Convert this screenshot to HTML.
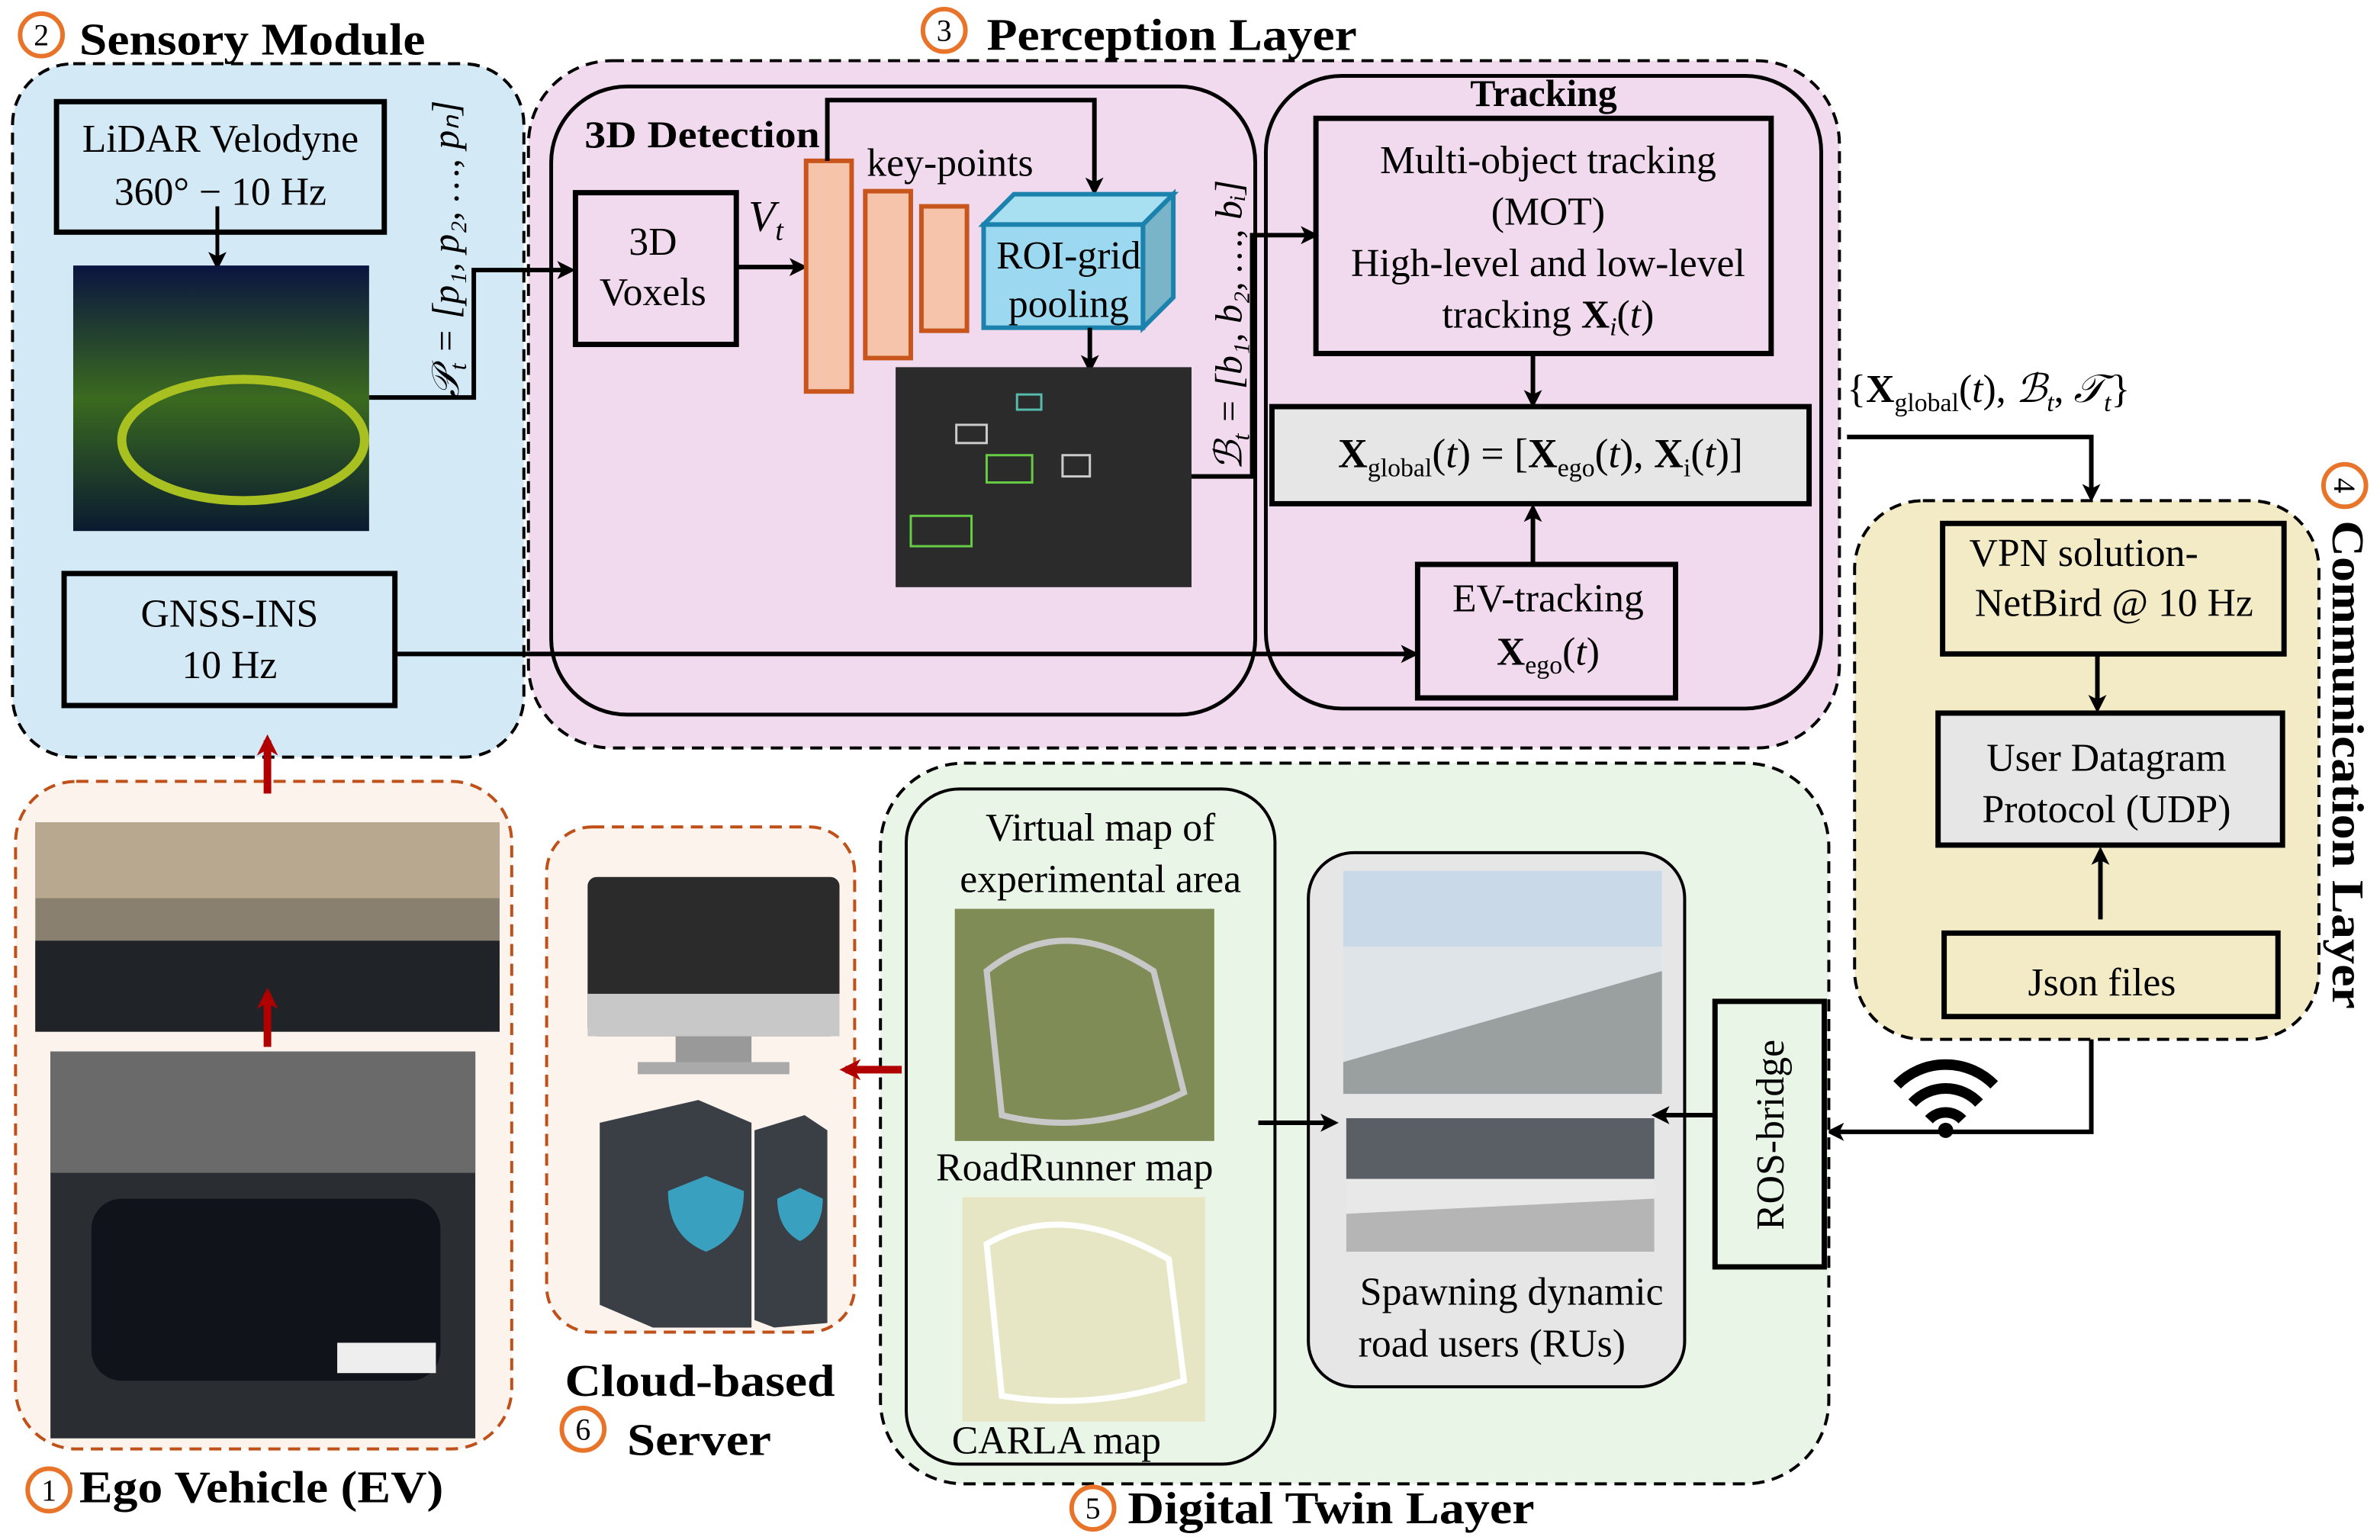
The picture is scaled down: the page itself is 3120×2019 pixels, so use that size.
<!DOCTYPE html>
<html><head><meta charset="utf-8"><style>html,body{margin:0;padding:0;background:#fff}svg{display:block}text{font-family:"Liberation Serif",serif;fill:#000}</style></head><body>
<svg width="3120" height="2019" viewBox="0 0 1568 1015" xmlns="http://www.w3.org/2000/svg">
<defs>
<marker id="a" markerWidth="12" markerHeight="12" refX="9" refY="6" orient="auto" markerUnits="userSpaceOnUse"><path d="M0,0 L12,6 L0,12 L3,6 z" fill="#000"/></marker>
<marker id="r" markerWidth="14" markerHeight="14" refX="10" refY="7" orient="auto" markerUnits="userSpaceOnUse"><path d="M0,0 L14,7 L0,14 L4,7 z" fill="#b00000"/></marker>
<linearGradient id="pc" x1="0" y1="0" x2="0" y2="1"><stop offset="0" stop-color="#0a1440"/><stop offset="0.5" stop-color="#3a6a20"/><stop offset="1" stop-color="#0a1a30"/></linearGradient>
</defs>
<!-- Sensory -->
<rect x="8" y="42" width="337" height="457" rx="40" fill="#d4e9f6" stroke="#000" stroke-width="2" stroke-dasharray="8,5"/>
<circle cx="27" cy="23" r="14" fill="none" stroke="#e8742a" stroke-width="3"/><text x="27" y="30" font-size="20" text-anchor="middle" font-family="Liberation Sans">2</text>
<text x="52" y="36" font-size="30" font-weight="bold" textLength="228" lengthAdjust="spacingAndGlyphs">Sensory Module</text>
<rect x="37" y="67" width="216" height="86" fill="#d4e9f6" stroke="#000" stroke-width="3.5"/>
<text x="145" y="100" font-size="26" text-anchor="middle">LiDAR Velodyne</text>
<text x="145" y="135" font-size="26" text-anchor="middle">360° − 10 Hz</text>
<line x1="143" y1="136" x2="143" y2="175" stroke="#000" stroke-width="2.5" marker-end="url(#a)"/>
<rect x="48" y="175" width="195" height="175" fill="url(#pc)"/>
<ellipse cx="160" cy="290" rx="80" ry="40" fill="none" stroke="#a8c020" stroke-width="6"/>
<rect x="42" y="378" width="218" height="87" fill="#d4e9f6" stroke="#000" stroke-width="3.5"/>
<text x="151" y="413" font-size="26" text-anchor="middle">GNSS-INS</text>
<text x="151" y="447" font-size="26" text-anchor="middle">10 Hz</text>
<text transform="translate(302,262) rotate(-90)" font-size="25" font-style="italic">𝒫<tspan font-size="16" dy="5">t</tspan><tspan dy="-5"> = [p₁, p₂, …, pₙ]</tspan></text>
<!-- Perception -->
<rect x="348" y="40" width="864" height="453" rx="55" fill="#f1d9ee" stroke="#000" stroke-width="2" stroke-dasharray="8,5"/>
<polyline points="243,262 312,262 312,178 376,178" fill="none" stroke="#000" stroke-width="3" marker-end="url(#a)"/>
<circle cx="622" cy="20" r="14" fill="none" stroke="#e8742a" stroke-width="3"/><text x="622" y="27" font-size="20" text-anchor="middle" font-family="Liberation Sans">3</text>
<text x="650" y="33" font-size="30" font-weight="bold" textLength="244" lengthAdjust="spacingAndGlyphs">Perception Layer</text>
<rect x="363" y="57" width="464" height="414" rx="50" fill="none" stroke="#000" stroke-width="2.5"/>
<text x="385" y="97" font-size="25" font-weight="bold" textLength="155" lengthAdjust="spacingAndGlyphs">3D Detection</text>
<rect x="379" y="127" width="106" height="100" fill="none" stroke="#000" stroke-width="3.5"/>
<text x="430" y="168" font-size="26" text-anchor="middle">3D</text>
<text x="430" y="201" font-size="26" text-anchor="middle">Voxels</text>
<text x="493" y="152" font-size="29" font-style="italic">V<tspan font-size="19" dy="6">t</tspan></text>
<line x1="485" y1="176" x2="529" y2="176" stroke="#000" stroke-width="3" marker-end="url(#a)"/>
<rect x="531" y="106" width="30" height="152" fill="#f5c4ab" stroke="#c8561c" stroke-width="3"/>
<rect x="570" y="126" width="30" height="110" fill="#f5c4ab" stroke="#c8561c" stroke-width="3"/>
<rect x="607" y="136" width="30" height="82" fill="#f5c4ab" stroke="#c8561c" stroke-width="3"/>
<text x="571" y="116" font-size="26">key-points</text>
<polyline points="545,106 545,66 721,66 721,126" fill="none" stroke="#000" stroke-width="3" marker-end="url(#a)"/>
<polygon points="648,148 668,128 773,128 753,148" fill="#a8e0f2" stroke="#1a82ad" stroke-width="3"/>
<polygon points="753,148 773,128 773,196 753,216" fill="#7ab4c8" stroke="#1a82ad" stroke-width="3"/>
<rect x="648" y="148" width="105" height="68" fill="#9cd8f0" stroke="#1a82ad" stroke-width="3"/>
<text x="704" y="177" font-size="26" text-anchor="middle">ROI-grid</text>
<text x="704" y="209" font-size="26" text-anchor="middle">pooling</text>
<line x1="718" y1="216" x2="718" y2="243" stroke="#000" stroke-width="3" marker-end="url(#a)"/>
<rect x="590" y="242" width="195" height="145" fill="#2b2b2b"/>
<g fill="none" stroke-width="1.5"><rect x="600" y="340" width="40" height="20" stroke="#6c4"/><rect x="650" y="300" width="30" height="18" stroke="#6c4"/><rect x="630" y="280" width="20" height="12" stroke="#ccc"/><rect x="700" y="300" width="18" height="14" stroke="#ccc"/><rect x="670" y="260" width="16" height="10" stroke="#5ba"/></g>
<text transform="translate(818,310) rotate(-90)" font-size="25" font-style="italic">ℬ<tspan font-size="16" dy="5">t</tspan><tspan dy="-5"> = [b₁, b₂, …, bᵢ]</tspan></text>
<polyline points="785,314 825,314 825,155 866,155" fill="none" stroke="#000" stroke-width="3" marker-end="url(#a)"/>
<rect x="834" y="50" width="366" height="417" rx="50" fill="none" stroke="#000" stroke-width="2.5"/>
<text x="1017" y="70" font-size="25" font-weight="bold" text-anchor="middle">Tracking</text>
<rect x="867" y="78" width="300" height="155" fill="none" stroke="#000" stroke-width="3.5"/>
<text x="1020" y="114" font-size="26" text-anchor="middle">Multi-object tracking</text>
<text x="1020" y="148" font-size="26" text-anchor="middle">(MOT)</text>
<text x="1020" y="182" font-size="26" text-anchor="middle">High-level and low-level</text>
<text x="1020" y="216" font-size="26" text-anchor="middle">tracking <tspan font-weight="bold">X</tspan><tspan font-style="italic" font-size="17" dy="5">i</tspan><tspan dy="-5">(</tspan><tspan font-style="italic">t</tspan>)</text>
<line x1="1010" y1="233" x2="1010" y2="266" stroke="#000" stroke-width="3" marker-end="url(#a)"/>
<rect x="838" y="268" width="354" height="64" fill="#e6e6e6" stroke="#000" stroke-width="3.5"/>
<text x="1015" y="308" font-size="27" text-anchor="middle"><tspan font-weight="bold">X</tspan><tspan font-size="17" dy="6">global</tspan><tspan dy="-6">(</tspan><tspan font-style="italic">t</tspan>) = [<tspan font-weight="bold">X</tspan><tspan font-size="17" dy="6">ego</tspan><tspan dy="-6">(</tspan><tspan font-style="italic">t</tspan>), <tspan font-weight="bold">X</tspan><tspan font-size="17" dy="6">i</tspan><tspan dy="-6">(</tspan><tspan font-style="italic">t</tspan>)]</text>
<line x1="1010" y1="372" x2="1010" y2="335" stroke="#000" stroke-width="3" marker-end="url(#a)"/>
<rect x="934" y="372" width="170" height="88" fill="none" stroke="#000" stroke-width="3.5"/>
<text x="1020" y="403" font-size="26" text-anchor="middle">EV-tracking</text>
<text x="1020" y="438" font-size="26" text-anchor="middle"><tspan font-weight="bold">X</tspan><tspan font-size="17" dy="6">ego</tspan><tspan dy="-6">(</tspan><tspan font-style="italic">t</tspan>)</text>
<line x1="260" y1="431" x2="932" y2="431" stroke="#000" stroke-width="3" marker-end="url(#a)"/>
<text x="1217" y="265" font-size="26">{<tspan font-weight="bold">X</tspan><tspan font-size="17" dy="6">global</tspan><tspan dy="-6">(</tspan><tspan font-style="italic">t</tspan>), <tspan font-style="italic">ℬ</tspan><tspan font-size="17" dy="6" font-style="italic">t</tspan><tspan dy="-6">, </tspan><tspan font-style="italic">𝒯</tspan><tspan font-size="17" dy="6" font-style="italic">t</tspan><tspan dy="-6">}</tspan></text>
<polyline points="1217,288 1378,288 1378,328" fill="none" stroke="#000" stroke-width="3" marker-end="url(#a)"/>
<!-- Communication -->
<rect x="1222" y="330" width="306" height="355" rx="45" fill="#f3ebc6" stroke="#000" stroke-width="2" stroke-dasharray="8,5"/>
<circle cx="1545" cy="320" r="14" fill="none" stroke="#e8742a" stroke-width="3"/><text x="1545" y="327" font-size="20" text-anchor="middle" font-family="Liberation Sans" transform="rotate(90,1545,320)">4</text>
<text transform="translate(1537,343) rotate(90)" font-size="30" font-weight="bold" textLength="322" lengthAdjust="spacingAndGlyphs">Communication Layer</text>
<rect x="1280" y="345" width="225" height="86" fill="#f3ebc6" stroke="#000" stroke-width="3.5"/>
<text x="1373" y="373" font-size="26" text-anchor="middle">VPN solution-</text>
<text x="1393" y="406" font-size="26" text-anchor="middle">NetBird @ 10 Hz</text>
<line x1="1382" y1="431" x2="1382" y2="467" stroke="#000" stroke-width="3" marker-end="url(#a)"/>
<rect x="1277" y="470" width="227" height="87" fill="#e6e6e6" stroke="#000" stroke-width="3.5"/>
<text x="1388" y="508" font-size="26" text-anchor="middle">User Datagram</text>
<text x="1388" y="542" font-size="26" text-anchor="middle">Protocol (UDP)</text>
<line x1="1384" y1="606" x2="1384" y2="561" stroke="#000" stroke-width="3" marker-end="url(#a)"/>
<rect x="1281" y="615" width="220" height="55" fill="#f3ebc6" stroke="#000" stroke-width="3.5"/>
<text x="1385" y="656" font-size="26" text-anchor="middle">Json files</text>
<polyline points="1378,685 1378,746 1206,746" fill="none" stroke="#000" stroke-width="3" marker-end="url(#a)"/>
<g fill="none" stroke="#000" stroke-width="7"><path d="M1250,715 A45,45 0 0 1 1314,715"/><path d="M1260,727 A30,30 0 0 1 1304,727"/><path d="M1271,738 A15,15 0 0 1 1293,738"/></g><circle cx="1282" cy="745" r="5" fill="#000"/>
<!-- Digital twin -->
<rect x="580" y="503" width="625" height="475" rx="55" fill="#e9f5e6" stroke="#000" stroke-width="2" stroke-dasharray="8,5"/>
<circle cx="720" cy="994" r="14" fill="none" stroke="#e8742a" stroke-width="3"/><text x="720" y="1001" font-size="20" text-anchor="middle" font-family="Liberation Sans">5</text>
<text x="743" y="1004" font-size="30" font-weight="bold" textLength="268" lengthAdjust="spacingAndGlyphs">Digital Twin Layer</text>
<rect x="597" y="520" width="243" height="445" rx="35" fill="none" stroke="#000" stroke-width="2"/>
<text x="725" y="554" font-size="26" text-anchor="middle">Virtual map of</text>
<text x="725" y="588" font-size="26" text-anchor="middle">experimental area</text>
<rect x="629" y="599" width="171" height="153" fill="#7f8c55"/>
<path d="M650,640 Q700,600 760,640 L780,720 Q720,750 660,735 Z" fill="none" stroke="#c8c8c8" stroke-width="4"/>
<text x="708" y="778" font-size="26" text-anchor="middle">RoadRunner map</text>
<rect x="634" y="789" width="160" height="148" fill="#e6e6c4"/>
<path d="M650,820 Q700,790 770,830 L780,910 Q720,930 660,920 Z" fill="none" stroke="#fff" stroke-width="4"/>
<text x="627" y="958" font-size="26">CARLA map</text>
<rect x="862" y="562" width="248" height="352" rx="30" fill="#e6e6e6" stroke="#000" stroke-width="2"/>
<rect x="885" y="574" width="210" height="147" fill="#dfe4e8"/>
<rect x="885" y="574" width="210" height="50" fill="#c9d9e8"/><polygon points="885,700 1095,640 1095,721 885,721" fill="#9aa0a0"/>
<rect x="887" y="737" width="203" height="88" fill="#e8e8e8"/><rect x="887" y="737" width="203" height="40" fill="#5a5f66"/><polygon points="887,800 1090,790 1090,825 887,825" fill="#b5b5b5"/>
<text x="996" y="860" font-size="26" text-anchor="middle">Spawning dynamic</text>
<text x="983" y="894" font-size="26" text-anchor="middle">road users (RUs)</text>
<line x1="829" y1="740" x2="879" y2="740" stroke="#000" stroke-width="3" marker-end="url(#a)"/>
<line x1="1130" y1="735" x2="1091" y2="735" stroke="#000" stroke-width="3" marker-end="url(#a)"/>
<rect x="1130" y="660" width="72" height="175" fill="none" stroke="#000" stroke-width="3.5"/>
<text transform="translate(1175,748) rotate(-90)" font-size="26" text-anchor="middle">ROS-bridge</text>
<!-- Ego vehicle -->
<rect x="10" y="515" width="327" height="440" rx="40" fill="#fcf3ec" stroke="#c0501a" stroke-width="2" stroke-dasharray="8,5"/>
<rect x="23" y="542" width="306" height="138" fill="#8a8070"/><rect x="23" y="542" width="306" height="50" fill="#b8a890"/><rect x="23" y="620" width="306" height="60" fill="#202428"/>
<rect x="33" y="693" width="280" height="255" fill="#2a2e33"/><rect x="33" y="693" width="280" height="80" fill="#6a6a6a"/><rect x="60" y="790" width="230" height="120" rx="20" fill="#10141a"/><rect x="222" y="885" width="65" height="20" fill="#eee"/>
<line x1="176" y1="523" x2="176" y2="488" stroke="#b00000" stroke-width="5" marker-end="url(#r)"/>
<line x1="176" y1="690" x2="176" y2="655" stroke="#b00000" stroke-width="5" marker-end="url(#r)"/>
<circle cx="32" cy="982" r="14" fill="none" stroke="#e8742a" stroke-width="3"/><text x="32" y="989" font-size="20" text-anchor="middle" font-family="Liberation Sans">1</text>
<text x="52" y="990" font-size="30" font-weight="bold" textLength="240" lengthAdjust="spacingAndGlyphs">Ego Vehicle (EV)</text>
<!-- Cloud -->
<rect x="360" y="545" width="203" height="333" rx="30" fill="#fcf3ec" stroke="#c0501a" stroke-width="2" stroke-dasharray="8,5"/>
<rect x="387" y="578" width="166" height="105" rx="6" fill="#2b2b2b"/><rect x="387" y="655" width="166" height="28" fill="#c8c8c8"/><rect x="445" y="683" width="50" height="20" fill="#999"/><rect x="420" y="700" width="100" height="8" fill="#aaa"/>
<polygon points="395,740 460,725 495,740 495,875 430,875 395,860" fill="#3a3f45"/><polygon points="497,745 530,735 545,745 545,872 510,875 497,870" fill="#3a3f45"/>
<path d="M440,785 L465,775 L490,785 Q490,815 465,825 Q440,815 440,785Z" fill="#3aa0c0"/><path d="M512,790 L527,783 L542,790 Q542,810 527,818 Q512,810 512,790Z" fill="#3aa0c0"/>
<line x1="594" y1="705" x2="557" y2="705" stroke="#b00000" stroke-width="5" marker-end="url(#r)"/>
<text x="461" y="920" font-size="30" font-weight="bold" text-anchor="middle" textLength="178" lengthAdjust="spacingAndGlyphs">Cloud-based</text>
<circle cx="384" cy="942" r="14" fill="none" stroke="#e8742a" stroke-width="3"/><text x="384" y="949" font-size="20" text-anchor="middle" font-family="Liberation Sans">6</text>
<text x="413" y="959" font-size="30" font-weight="bold" textLength="95" lengthAdjust="spacingAndGlyphs">Server</text>
</svg>
</body></html>
